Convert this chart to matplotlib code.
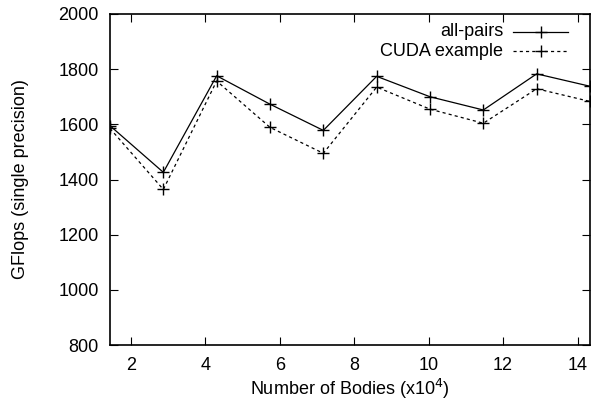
import numpy as np
import matplotlib.pyplot as plt
from matplotlib.lines import Line2D

plt.rcParams["font.family"] = ["Liberation Sans", "DejaVu Sans"]

# Number of bodies (x10^4) and GFlops for each series
bodies = [1.4336, 2.8672, 4.3008, 5.7344, 7.168, 8.6016, 10.0352, 11.4688, 12.9024, 14.336]
all_pairs = [1595, 1426, 1776, 1673, 1578, 1774, 1700, 1652, 1783, 1738]
cuda_example = [1585, 1364, 1757, 1589, 1495, 1735, 1655, 1604, 1729, 1683]

xticks = [2, 4, 6, 8, 10, 12, 14]
yticks = [800, 1000, 1200, 1400, 1600, 1800, 2000]

fig = plt.figure(figsize=(5.92, 4.07), dpi=100)
ax = fig.add_axes([110 / 592, 1 - 345 / 407, 480 / 592, 331 / 407])

ax.plot(bodies, all_pairs, color="black", linewidth=0.9,
        marker="+", markersize=8, markeredgewidth=1.0)
ax.plot(bodies, cuda_example, color="black", linewidth=0.9, linestyle=(0, (2.5, 2.5)),
        marker="+", markersize=8, markeredgewidth=1.0)

ax.set_xlim(bodies[0], bodies[-1])
ax.set_ylim(800, 2000)
ax.set_xticks(xticks)
ax.set_yticks(yticks)
ax.tick_params(direction="in", length=6, width=0.8, top=True, right=True,
               labelsize=13)
ax.tick_params(axis="x", pad=9)
ax.tick_params(axis="y", pad=8)
for spine in ax.spines.values():
    spine.set_linewidth(1.2)

ax.set_xlabel("Number of Bodies (x10$^4$)", fontsize=13, labelpad=2)
ax.set_ylabel("GFlops (single precision)", fontsize=13, labelpad=21)

# gnuplot-style key: text right aligned, sample to the right
key_rows = [("all-pairs", "-"), ("CUDA example", (0, (2.5, 2.5)))]
for i, (label, ls) in enumerate(key_rows):
    yk = 1 - (18 + 19 * i) / 331
    ax.text(0.819, yk, label, transform=ax.transAxes, ha="right", va="center",
            fontsize=13)
    ax.add_line(Line2D([0.84, 0.955], [yk, yk], transform=ax.transAxes,
                       color="black", linewidth=0.9, linestyle=ls))
    ax.add_line(Line2D([0.8975], [yk], transform=ax.transAxes, color="black",
                       marker="+", markersize=8, markeredgewidth=1.0))

fig.savefig("out.png", dpi=100)
